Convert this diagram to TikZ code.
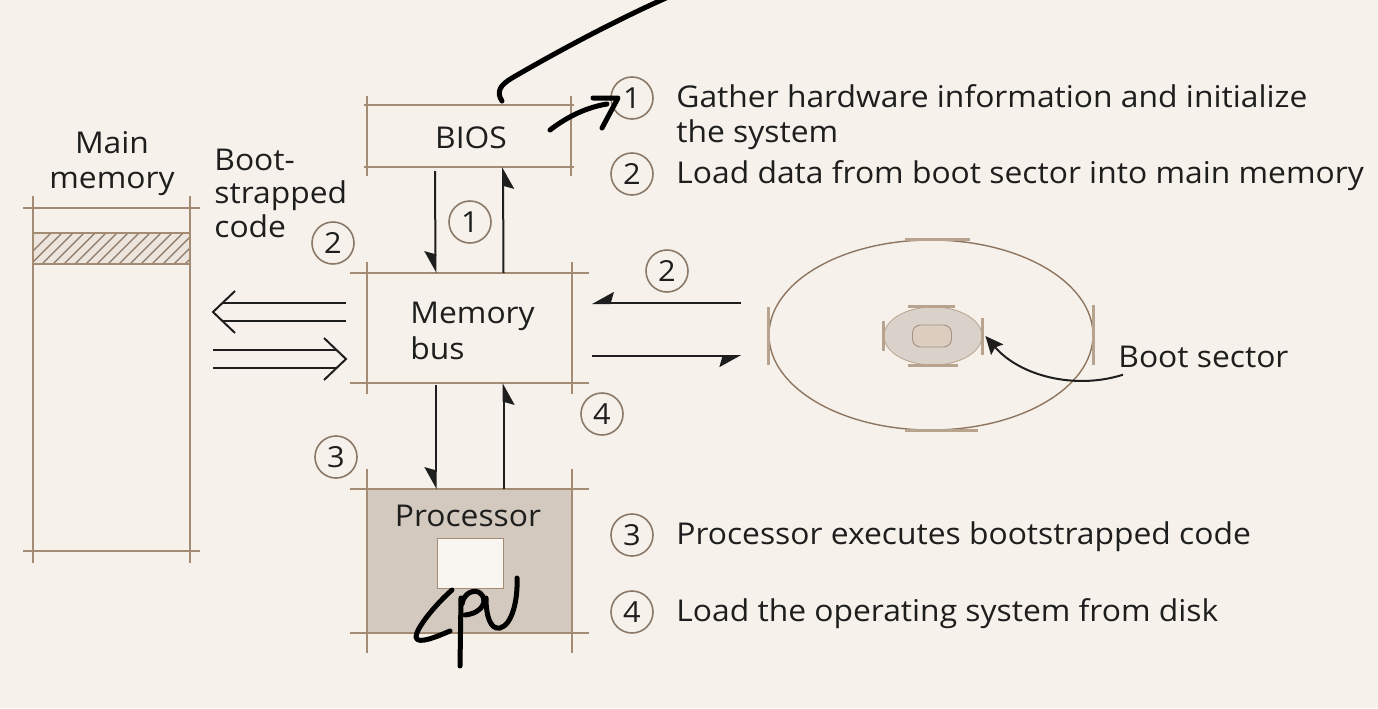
\documentclass[tikz,border=0pt]{standalone}
\usepackage{fontspec}
\setmainfont{Open Sans}[FakeStretch=1.06]
\usetikzlibrary{arrows.meta,shapes.geometric,calc}
\definecolor{bg}{HTML}{F6F1EA}
\definecolor{frame}{HTML}{A38B74}
\definecolor{ink}{HTML}{1E1E1E}
\definecolor{cpufill}{HTML}{D3C9BE}
\definecolor{numc}{HTML}{8A7968}
\definecolor{diskc}{HTML}{8E7560}
\definecolor{tickc}{HTML}{B8A48E}
\definecolor{hubfill}{HTML}{DAD2CA}
\definecolor{secfill}{HTML}{DDCDBE}
\newcommand\skbox[3]{%
  \draw[frameline] ([xshift=-#2]#1.north west) -- ([xshift=#2]#1.north east);
  \draw[frameline] ([xshift=-#2]#1.south west) -- ([xshift=#2]#1.south east);
  \draw[frameline] ([yshift=#3]#1.north west) -- ([yshift=-#3]#1.south west);
  \draw[frameline] ([yshift=#3]#1.north east) -- ([yshift=-#3]#1.south east);}
\begin{document}
\begin{tikzpicture}[x=0.5pt,y=-0.5pt,
  frameline/.style={draw=frame, line width=1.2pt},
  boxnode/.style={draw=none, inner sep=0pt, outer sep=0pt},
  lbl/.style={text=ink, font=\fontsize{15}{18}\selectfont, inner sep=0pt},
  num/.style={circle, draw=numc, line width=0.8pt, minimum size=21pt, inner sep=0pt, text=ink, font=\fontsize{14.5}{14.5}\selectfont},
  arr/.style={draw=ink, line width=1pt, -{Stealth[harpoon,swap,length=10pt,width=11pt,inset=1.5pt]}},
  arrfull/.style={draw=ink, line width=1pt, -{Stealth[length=9pt,width=8pt,inset=1.5pt]}},
  dbl/.style={draw=ink, line width=1pt, double=bg, double distance=7.9pt, shorten >=4.5pt},
  chev/.style={draw=ink, line width=1pt, line join=miter},
  tick/.style={draw=tickc, line width=1.6pt},
  hand/.style={draw=black, line width=2.5pt, line cap=round, line join=round}]
\fill[bg] (0,0) rectangle (1378,708);
\useasboundingbox (0,0) rectangle (1378,708);

% ---- box nodes
\node[boxnode, minimum width=78.5pt, minimum height=171.5pt] (mm) at (111.5,379.5) {};
\node[boxnode, minimum width=102pt, minimum height=31pt] (bios) at (469,136) {};
\node[boxnode, minimum width=102.5pt, minimum height=55pt] (membus) at (469.5,328) {};
\node[boxnode, minimum width=102.5pt, minimum height=72pt] (proc) at (469.5,561) {};

% processor fill
\fill[cpufill] (proc.north west) rectangle (proc.south east);
\node[fill=bg!70!white, draw=frame, line width=0.5pt, minimum width=33pt, minimum height=25pt, inner sep=0pt] (die) at (470,563) {};

% hatched band in main memory
\fill[cpufill!30!bg] (33,233) rectangle (190,264);
\begin{scope}
  \clip (33,233) rectangle (190,264);
  \foreach \i in {0,...,17} {
    \draw[frame!85!black, line width=0.65pt] ({20+11*\i},264) -- ({51+11*\i},233);
  }
\end{scope}
\draw[frameline, line width=0.9pt] (33,233) -- (190,233) (33,264) -- (190,264);

% sketch frames
\skbox{mm}{5pt}{6pt}
\skbox{bios}{1.5pt}{4.5pt}
\skbox{membus}{8.5pt}{5.5pt}
\skbox{proc}{8.5pt}{10pt}

% ---- texts in boxes
\node[lbl, anchor=base] (mainlbl1) at (112,153) {Main};
\node[lbl, anchor=base] (mainlbl2) at (112,188) {memory};
\node[lbl, anchor=base west] (bs1) at (214,170) {Boot-};
\node[lbl, anchor=base west] (bs2) at (214,203) {strapped};
\node[lbl, anchor=base west] (bs3) at (214,237) {code};
\node[lbl, anchor=base] (bioslbl) at (471,148) {BIOS};
\node[lbl, anchor=base west] (mb1) at (410,323) {Memory};
\node[lbl, anchor=base west] (mb2) at (410,359) {bus};
\node[lbl, anchor=base] (proclbl) at (468,526) {Processor};

% ---- vertical arrows
\draw[arr, shorten <=2pt] ([xshift=-17pt]bios.south) -- ([xshift=-17pt]membus.north);
\draw[arr] ([xshift=17pt]membus.north) -- ([xshift=17pt]bios.south);
\draw[arr, shorten <=1pt] ([xshift=-17pt]membus.south) -- ([xshift=-17pt]proc.north);
\draw[arr] ([xshift=17pt]proc.north) -- ([xshift=17pt]membus.south);

% ---- double arrows to main memory
\coordinate (dlS) at ([shift={(-10.5pt,8pt)}]membus.west);
\coordinate (dlT) at ([shift={(11.5pt,0pt)}]mm.east |- dlS);
\draw[dbl] (dlS) -- (dlT);
\draw[chev] ([shift={(11pt,10.5pt)}]dlT) -- (dlT) -- ([shift={(11pt,-10.5pt)}]dlT);
\coordinate (drT) at ([shift={(-10.5pt,-15.5pt)}]membus.west);
\coordinate (drS) at ([shift={(11.5pt,0pt)}]mm.east |- drT);
\draw[dbl] (drS) -- (drT);
\draw[chev] ([shift={(-11pt,10.5pt)}]drT) -- (drT) -- ([shift={(-11pt,-10.5pt)}]drT);

% ---- disk
\node[ellipse, draw=diskc, line width=0.7pt, minimum width=162pt, minimum height=95pt, inner sep=0pt] (disk) at (931,335) {};
\draw[tick] ([xshift=-13pt]disk.north) -- ([xshift=19.5pt]disk.north);
\draw[tick] ([xshift=-13pt]disk.south) -- ([xshift=23.5pt]disk.south);
\draw[tick] ([yshift=14pt]disk.west) -- ([yshift=-15pt]disk.west);
\draw[tick] ([yshift=15pt]disk.east) -- ([yshift=-15pt]disk.east);
\node[ellipse, fill=hubfill, draw=tickc, line width=0.4pt, minimum width=49pt, minimum height=29pt, inner sep=0pt] (hub) at (933,336) {};
\draw[tick, line width=1.2pt] ([xshift=-12.5pt]hub.north) -- ([xshift=11pt]hub.north);
\draw[tick, line width=1.2pt] ([xshift=-12.5pt]hub.south) -- ([xshift=12.5pt]hub.south);
\draw[tick, line width=1.2pt] ([yshift=7.5pt]hub.west) -- ([yshift=-7.5pt]hub.west);
\draw[tick, line width=1.2pt] ([yshift=9pt]hub.east) -- ([yshift=-9.5pt]hub.east);
\node[fill=secfill, draw=numc!80, line width=0.45pt, rounded corners=4pt, minimum width=19.5pt, minimum height=11pt, inner sep=0pt] (sector) at (932,336) {};

% arrows to / from the disk
\draw[arr] ([shift={(-13.5pt,16pt)}]disk.west) -- ([shift={(10pt,12.5pt)}]membus.east);
\draw[arr] ([shift={(10pt,-14pt)}]membus.east) -- ([shift={(-13.5pt,-10.5pt)}]disk.west);

\node[lbl, anchor=base west] (bootlbl) at (1118,367) {Boot sector};
\draw[arrfull] ([shift={(2.5pt,-3.5pt)}]bootlbl.south west) .. controls (1075,390) and (1020,376) .. ([xshift=1.5pt]hub.east);

% ---- circled numbers
\node[num] (n1a) at (470,222) {1};
\node[num] (n2a) at (333,243) {2};
\node[num] (n2b) at (667,271) {2};
\node[num] (n3a) at (336,457) {3};
\node[num] (n4a) at (602,414) {4};
\node[num] (l1) at (632,98) {1};
\node[num] (l2) at (632,174) {2};
\node[num] (l3) at (632,535) {3};
\node[num] (l4) at (632,612) {4};

% ---- list texts
\node[lbl, anchor=base west] (t1) at (676,107) {Gather hardware information and initialize};
\node[lbl, anchor=base west] (t1b) at (676,142) {the system};
\node[lbl, anchor=base west] (t2) at (676,183) {Load data from boot sector into main memory};
\node[lbl, anchor=base west] (t3) at (676,544) {Processor executes bootstrapped code};
\node[lbl, anchor=base west] (t4) at (676,621) {Load the operating system from disk};

% ---- handwritten strokes
\draw[hand] (502,101) .. controls (496,92) and (500,85) .. (512,78) .. controls (560,50) and (620,18) .. (675,-6);
\draw[hand] (550,130) .. controls (568,116) and (588,107) .. (607,104);
\draw[hand] (593,98) -- (618,98) -- (602,128);
\draw[hand] (452,590) .. controls (436,604) and (416,628) .. (416,637) .. controls (417,645) and (436,637) .. (450,631);
\draw[hand] (461,598) -- (460,666);
\draw[hand] (462,604) .. controls (464,592) and (475,589) .. (480,593) .. controls (488,599) and (484,613) .. (465,615);
\draw[hand] (486,598) .. controls (486,615) and (490,630) .. (500,628) .. controls (512,625) and (518,600) .. (517,578);
\end{tikzpicture}
\end{document}
